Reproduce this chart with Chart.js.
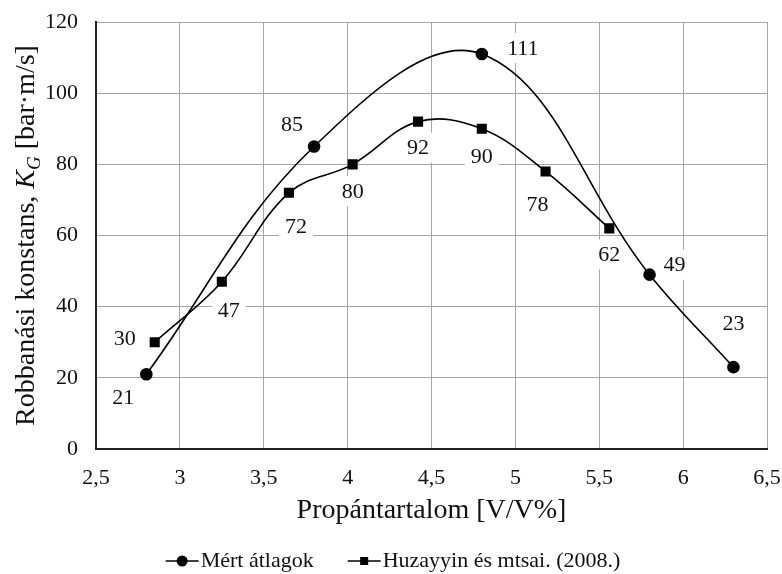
<!DOCTYPE html>
<html>
<head>
<meta charset="utf-8">
<script src="https://cdn.jsdelivr.net/npm/chart.js@4.4.1/dist/chart.umd.min.js"></script>
<style>
  html, body { margin: 0; padding: 0; background: #fff; }
  #wrap { width: 782px; height: 574px; }
</style>
</head>
<body>
<div id="wrap"><canvas id="chart"></canvas></div>
<script>
// measured averages
const measuredX = [2.8, 3.8, 4.8, 5.8, 6.3];
const measuredKG = [21, 85, 111, 49, 23];
// Huzayyin et al. (2008)
const huzayyinX = [2.85, 3.25, 3.65, 4.03, 4.42, 4.8, 5.18, 5.56];
const huzayyinKG = [30, 47, 72, 80, 92, 90, 78, 62];

const seriesNames = ['Mért átlagok', 'Huzayyin és mtsai. (2008.)'];
const xTitle = 'Propántartalom [V/V%]';
const xMin = 2.5, xMax = 6.5, xStep = 0.5;
const yMin = 0, yMax = 120, yStep = 20;

const FONT = '"Liberation Serif", "Times New Roman", serif';

// where each value label sits relative to its marker (px)
const labelOffsets = [
  [[-23, 23], [-22, -22], [41, -6], [25, -10], [0, -44]],
  [[-30, -4], [7, 28], [7, 33], [0, 27], [0, 26], [0, 27], [-8, 33], [0, 26]]
];

function pairs(xs, ys) {
  return xs.map((x, i) => ({ x: x, y: ys[i] }));
}

const valueLabels = {
  id: 'valueLabels',
  beforeDatasetsDraw(chart, args, opts) {
    const ctx = chart.ctx;
    ctx.save();
    ctx.font = opts.font;
    ctx.textAlign = 'center';
    ctx.textBaseline = 'middle';
    chart.data.datasets.forEach((ds, i) => {
      const meta = chart.getDatasetMeta(i);
      meta.data.forEach((pt, j) => {
        const off = opts.offsets[i][j];
        const text = String(ds.data[j].y);
        const w = ctx.measureText(text).width + 12;
        const cx = pt.x + off[0], cy = pt.y + off[1];
        ctx.fillStyle = '#fff';
        ctx.fillRect(cx - w / 2, cy - 15, w, 30);
        ctx.fillStyle = '#111';
        ctx.fillText(text, cx, cy + 1);
      });
    });
    ctx.restore();
  }
};

// rotated y title with italic K and subscript G
const yAxisTitle = {
  id: 'yAxisTitle',
  afterDraw(chart, args, opts) {
    const ctx = chart.ctx;
    const area = chart.chartArea;
    const parts = [
      { t: 'Robbanási konstans, ', f: '28px ' + FONT, dy: 0 },
      { t: 'K', f: 'italic 28px ' + FONT, dy: 0 },
      { t: 'G', f: 'italic 19px ' + FONT, dy: 6 },
      { t: ' [bar·m/s]', f: '28px ' + FONT, dy: 0 }
    ];
    ctx.save();
    let total = 0;
    parts.forEach(p => { ctx.font = p.f; p.w = ctx.measureText(p.t).width; total += p.w; });
    ctx.translate(opts.x, (area.top + area.bottom) / 2);
    ctx.rotate(-Math.PI / 2);
    ctx.fillStyle = '#111';
    ctx.textBaseline = 'alphabetic';
    let x = -total / 2;
    parts.forEach(p => {
      ctx.font = p.f;
      ctx.fillText(p.t, x, 10 + p.dy);
      x += p.w;
    });
    ctx.restore();
  }
};

// legend entries drawn as line-through-marker swatches
const lineLegend = {
  id: 'lineLegend',
  afterDraw(chart, args, opts) {
    const ctx = chart.ctx;
    ctx.save();
    ctx.font = opts.font;
    const items = chart.data.datasets.map(ds => ({
      ds: ds,
      tw: ctx.measureText(ds.label).width
    }));
    const sw = opts.swatchWidth, gap = opts.textGap;
    let total = 0;
    items.forEach((it, i) => { total += sw + gap + it.tw + (i ? opts.itemGap : 0); });
    let x = chart.width / 2 + opts.shift - total / 2;
    const y = opts.y;
    items.forEach(it => {
      const ds = it.ds;
      ctx.strokeStyle = ds.borderColor;
      ctx.lineWidth = ds.borderWidth;
      ctx.beginPath(); ctx.moveTo(x, y); ctx.lineTo(x + sw, y); ctx.stroke();
      ctx.fillStyle = ds.backgroundColor;
      const mx = x + sw / 2;
      if (ds.pointStyle === 'circle') {
        ctx.beginPath(); ctx.arc(mx, y, 5.5, 0, Math.PI * 2); ctx.fill();
      } else {
        ctx.fillRect(mx - 4, y - 4, 8, 8);
      }
      ctx.fillStyle = '#111';
      ctx.textAlign = 'left';
      ctx.textBaseline = 'middle';
      ctx.fillText(ds.label, x + sw + gap, y);
      x += sw + gap + it.tw + opts.itemGap;
    });
    ctx.restore();
  }
};

new Chart(document.getElementById('chart'), {
  type: 'scatter',
  data: {
    datasets: [
      {
        label: seriesNames[0],
        data: pairs(measuredX, measuredKG),
        showLine: true,
        tension: 0.38,
        borderColor: '#000',
        borderWidth: 1.6,
        backgroundColor: '#000',
        pointStyle: 'circle',
        pointRadius: 5.5,
        pointHoverRadius: 5.5
      },
      {
        label: seriesNames[1],
        data: pairs(huzayyinX, huzayyinKG),
        showLine: true,
        tension: 0.38,
        borderColor: '#000',
        borderWidth: 1.6,
        backgroundColor: '#000',
        pointStyle: 'rect',
        pointRadius: 6,
        pointHoverRadius: 6
      }
    ]
  },
  options: {
    responsive: true,
    maintainAspectRatio: false,
    animation: false,
    layout: { padding: { top: 22, right: 15, left: 0, bottom: 47 } },
    scales: {
      x: {
        type: 'linear',
        min: xMin, max: xMax,
        ticks: {
          stepSize: xStep,
          padding: 16,
          color: '#111',
          font: { family: FONT, size: 22 },
          callback: v => String(v).replace('.', ',')
        },
        grid: { color: '#a6a6a6', lineWidth: 1, drawTicks: false },
        border: { color: '#222', width: 2 },
        title: {
          display: true,
          text: xTitle,
          color: '#111',
          font: { family: FONT, size: 28 },
          padding: { top: 4, bottom: 0 }
        },
        afterFit: s => { s.height = 78; s.paddingLeft = 0; s.paddingRight = 0; }
      },
      y: {
        min: yMin, max: yMax,
        ticks: {
          stepSize: yStep,
          padding: 18,
          color: '#111',
          font: { family: FONT, size: 22 }
        },
        grid: { color: '#a6a6a6', lineWidth: 1, drawTicks: false },
        border: { color: '#222', width: 2 },
        afterFit: s => { s.width = 96; s.paddingTop = 0; s.paddingBottom = 0; }
      }
    },
    plugins: {
      legend: { display: false },
      tooltip: { enabled: false },
      valueLabels: { font: '22px ' + FONT, offsets: labelOffsets },
      yAxisTitle: { x: 24 },
      lineLegend: { font: '22px ' + FONT, y: 561, swatchWidth: 33, textGap: 2, itemGap: 34, shift: 2 }
    }
  },
  plugins: [valueLabels, yAxisTitle, lineLegend]
});
</script>
</body>
</html>
